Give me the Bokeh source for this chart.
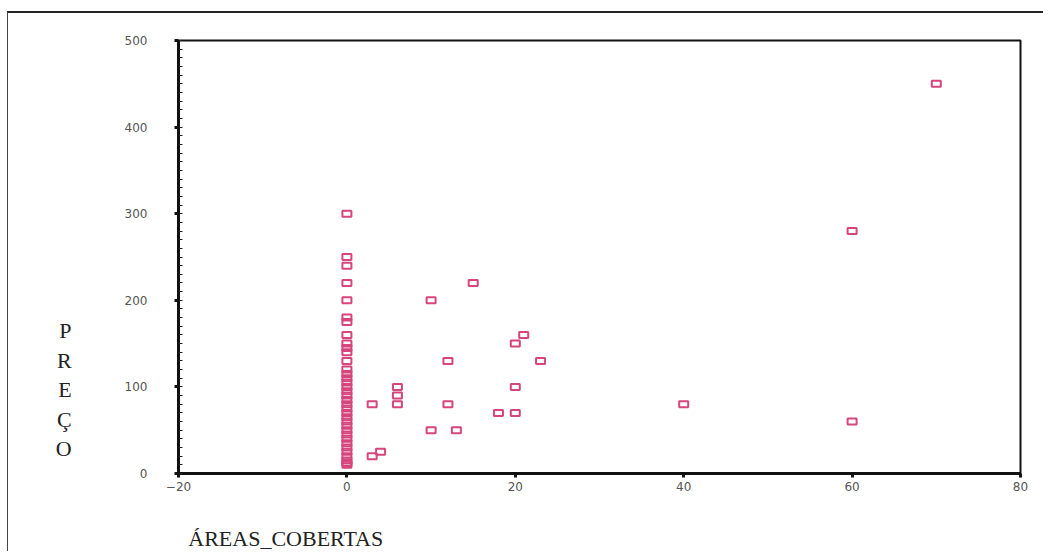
from bokeh.plotting import figure
from bokeh.models import ColumnDataSource, FixedTicker, Range1d
from bokeh.embed import file_html
from bokeh.resources import INLINE

# Data
areas_zero_precos = [300, 250, 240, 220, 200, 180, 175, 160, 150, 145, 140, 130, 120,
                     115, 110, 105, 100, 95, 90, 85, 80, 75, 70, 65, 60, 55, 50, 45,
                     40, 35, 30, 25, 20, 15, 12, 10]
other_areas = [3, 3, 4, 6, 6, 6, 10, 10, 12, 12, 13, 15, 18, 20, 20, 20, 21, 23, 40, 60, 60, 70]
other_precos = [80, 20, 25, 100, 90, 80, 200, 50, 130, 80, 50, 220, 70, 150, 100, 70, 160, 130, 80, 280, 60, 450]

areas = [0] * len(areas_zero_precos) + other_areas
precos = areas_zero_precos + other_precos

x_ticks = [-20, 0, 20, 40, 60, 80]
y_ticks = [0, 100, 200, 300, 400, 500]
x_label = "ÁREAS_COBERTAS"
y_label = "PREÇO"

src = ColumnDataSource(dict(x=areas, y=precos))

p = figure(width=1036, height=540, output_backend="svg", toolbar_location=None,
           x_range=Range1d(-20, 80), y_range=Range1d(0, 500),
           min_border_left=170, min_border_right=24, min_border_top=27, min_border_bottom=80)
p.styles = {"margin-left": "7px", "margin-top": "11px",
            "border-top": "2px solid #222", "border-left": "1px solid #444"}

p.rect(x="x", y="y", width=9, height=6, width_units="screen", height_units="screen",
       source=src, fill_color=None, line_color="#d6457c", line_width=2)

p.grid.visible = False
p.outline_line_color = "#111111"
p.outline_line_width = 2

for ax in (p.xaxis[0], p.yaxis[0]):
    ax.axis_line_width = 3
    ax.axis_line_color = "#111111"
    ax.major_tick_line_color = "#111111"
    ax.major_tick_line_width = 3
    ax.major_tick_out = 4
    ax.major_tick_in = 0
    ax.major_label_text_font = "DejaVu Sans"
    ax.major_label_text_font_size = "12px"
    ax.major_label_text_color = "#555555"

xa = p.xaxis[0]
xa.ticker = FixedTicker(ticks=x_ticks)
xa.minor_tick_line_color = None
xa.major_label_standoff = 4
xa.axis_label = "\u00a0" * 39 + x_label
xa.axis_label_align = "start"
xa.axis_label_text_font = "Liberation Serif"
xa.axis_label_text_font_style = "normal"
xa.axis_label_text_font_size = "22px"
xa.axis_label_text_color = "#222222"
xa.axis_label_standoff = 32

ya = p.yaxis[0]
ya.ticker = FixedTicker(ticks=y_ticks, minor_ticks=list(range(0, 501, 10)))
ya.minor_tick_in = 4
ya.minor_tick_out = 0
ya.minor_tick_line_color = "#222222"
ya.minor_tick_line_width = 1
ya.major_label_standoff = 27
ya.axis_label = "\n" * 9 + "\n".join(y_label)
ya.axis_label_orientation = "horizontal"
ya.axis_label_text_font = "Liberation Serif"
ya.axis_label_text_font_style = "normal"
ya.axis_label_text_font_size = "22px"
ya.axis_label_text_color = "#222222"
ya.axis_label_text_line_height = 1.18
ya.axis_label_standoff = 50

open("out.html", "w").write(file_html(p, INLINE))
